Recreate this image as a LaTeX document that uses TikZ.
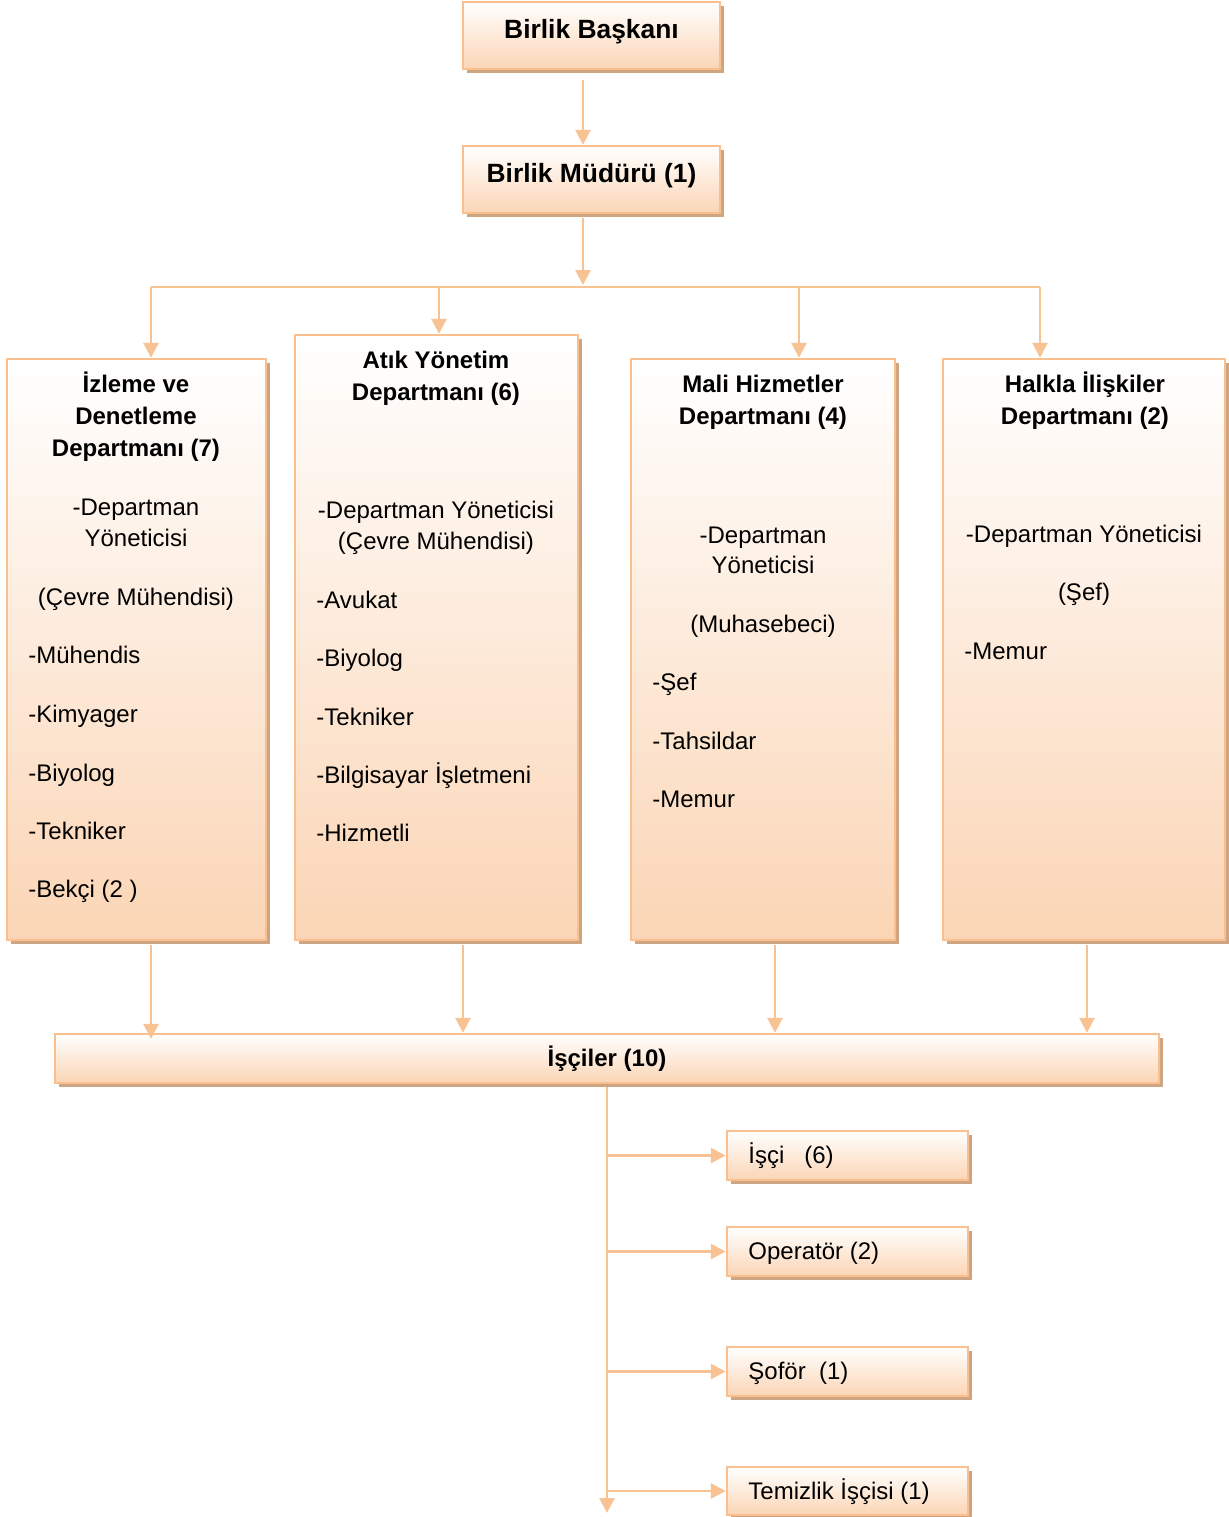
\documentclass[tikz,border=0pt]{standalone}
\usepackage{fontspec}
\setmainfont{Liberation Sans}
\usetikzlibrary{arrows.meta,shadows}
\definecolor{peach}{HTML}{FBD5B5}
\definecolor{bordc}{HTML}{F9BF8F}
\definecolor{connc}{HTML}{F9C293}
\definecolor{shadc}{HTML}{CDA583}
\begin{document}
\begin{tikzpicture}[x=0.5pt,y=-0.5pt,
  box/.style={draw=bordc, line width=1.2pt, top color=white, bottom color=peach,
    general shadow={fill=shadc, shadow xshift=1.75pt, shadow yshift=-1.75pt},
    inner sep=0pt},
  conn/.style={draw=connc, line width=1.3pt},
  arr/.style={conn, -{Triangle[length=7.5pt,width=7.5pt]}},
  t/.style={inner sep=0pt, anchor=mid, yshift=-1.5pt, font=\fontsize{12}{14}\selectfont},
  tl/.style={t, anchor=mid west},
  tb/.style={t, font=\bfseries\fontsize{12}{14}\selectfont},
  tbig/.style={inner sep=0pt, font=\bfseries\fontsize{13.2}{15}\selectfont}]
\useasboundingbox (0,0) rectangle (1229,1517);
% top boxes
\node[box, minimum width=128.5pt, minimum height=33.5pt] (pres) at (591.5,35.5) {};
\node[tbig] (prest) at (591.5,31.5) {Birlik Başkanı};
\node[box, minimum width=128.5pt, minimum height=33.5pt] (mgr) at (591.5,179.5) {};
\node[tbig] (mgrt) at (591.5,175.5) {Birlik Müdürü (1)};
% departments
\node[box, minimum width=129.5pt, minimum height=290.5pt] (d1) at (136.5,649.5) {};
\node[box, minimum width=141.5pt, minimum height=302.5pt] (d2) at (436.5,637.5) {};
\node[box, minimum width=132pt, minimum height=290.5pt] (d3) at (763,649.5) {};
\node[box, minimum width=141pt, minimum height=290.5pt] (d4) at (1084,649.5) {};
% workers
\node[box, minimum width=552pt, minimum height=24.5pt, font=\bfseries\fontsize{12}{14}\selectfont] (workers) at (607,1058.5) {İşçiler (10)};
\node[box, minimum width=120.5pt, minimum height=24.5pt] (w1) at (847.5,1155.5) {};
\node[box, minimum width=120.5pt, minimum height=24.5pt] (w2) at (847.5,1251.5) {};
\node[box, minimum width=120.5pt, minimum height=24.5pt] (w3) at (847.5,1371.5) {};
\node[box, minimum width=120.5pt, minimum height=24pt] (w4) at (847.5,1491) {};
% texts dept 1
\node[tb] (d1t1) at (136,384) {İzleme ve};
\node[tb] (d1t2) at (136,416) {Denetleme};
\node[tb] (d1t3) at (136,448) {Departmanı (7)};
\node[t] (d1a) at (136,507) {-Departman};
\node[t] (d1b) at (136,538) {Yöneticisi};
\node[t] (d1c) at (136,597) {(Çevre Mühendisi)};
\node[tl] (d1d) at (28,655) {-Mühendis};
\node[tl] (d1e) at (28,714) {-Kimyager};
\node[tl] (d1f) at (28,773) {-Biyolog};
\node[tl] (d1g) at (28,831) {-Tekniker};
\node[tl] (d1h) at (28,889) {-Bekçi (2 )};
% dept 2
\node[tb] (d2t1) at (436,360) {Atık Yönetim};
\node[tb] (d2t2) at (436,392) {Departmanı (6)};
\node[t] (d2a) at (436,510) {-Departman Yöneticisi};
\node[t] (d2b) at (436,541) {(Çevre Mühendisi)};
\node[tl] (d2c) at (316,600) {-Avukat};
\node[tl] (d2d) at (316,658) {-Biyolog};
\node[tl] (d2e) at (316,717) {-Tekniker};
\node[tl] (d2f) at (316,775) {-Bilgisayar İşletmeni};
\node[tl] (d2g) at (316,833) {-Hizmetli};
% dept 3
\node[tb] (d3t1) at (763,384) {Mali Hizmetler};
\node[tb] (d3t2) at (763,416) {Departmanı (4)};
\node[t] (d3a) at (763,535) {-Departman};
\node[t] (d3b) at (763,565) {Yöneticisi};
\node[t] (d3c) at (763,624) {(Muhasebeci)};
\node[tl] (d3d) at (652,682) {-Şef};
\node[tl] (d3e) at (652,741) {-Tahsildar};
\node[tl] (d3f) at (652,799) {-Memur};
% dept 4
\node[tb] (d4t1) at (1085,384) {Halkla İlişkiler};
\node[tb] (d4t2) at (1085,416) {Departmanı (2)};
\node[t] (d4a) at (1084,534) {-Departman Yöneticisi};
\node[t] (d4b) at (1084,592) {(Şef)};
\node[tl] (d4c) at (964,651) {-Memur};
% small boxes text
\node[tl] (w1t) at (748,1155) {İşçi\ \ \ (6)};
\node[tl] (w2t) at (748,1251) {Operatör (2)};
\node[tl] (w3t) at (748,1371) {Şoför\ \ (1)};
\node[tl] (w4t) at (748,1491) {Temizlik İşçisi (1)};
% coordinates
\coordinate (xa) at (583,0);
\coordinate (hub) at (583,285);
\coordinate (bl) at (151,287);
\coordinate (br) at (1040,287);
\coordinate (x1) at (151,0);
\coordinate (x2) at (439,0);
\coordinate (x3) at (799,0);
\coordinate (x4) at (1040,0);
\coordinate (y1) at (463,0);
\coordinate (y3) at (775,0);
\coordinate (y4) at (1087,0);
\coordinate (vend) at (607,1513);
% connectors
\draw[arr, shorten <=5pt] (xa |- pres.south) -- (xa |- mgr.north);
\draw[arr, shorten <=2pt] (xa |- mgr.south) -- (hub);
\draw[conn] (bl) -- (br);
\draw[arr] (bl) -- (x1 |- d1.north);
\draw[arr] (x2 |- bl) -- (x2 |- d2.north);
\draw[arr] (x3 |- bl) -- (x3 |- d3.north);
\draw[arr] (br) -- (x4 |- d4.north);
\draw[arr, shorten <=2pt, shorten >=-3pt] (x1 |- d1.south) -- (x1 |- workers.north);
\draw[arr, shorten <=2pt] (y1 |- d2.south) -- (y1 |- workers.north);
\draw[arr, shorten <=2pt] (y3 |- d3.south) -- (y3 |- workers.north);
\draw[arr, shorten <=2pt] (y4 |- d4.south) -- (y4 |- workers.north);
\draw[arr, shorten <=1.5pt] (workers.south) -- (vend);
\draw[arr] (workers.south |- w1.west) -- (w1.west);
\draw[arr] (workers.south |- w2.west) -- (w2.west);
\draw[arr] (workers.south |- w3.west) -- (w3.west);
\draw[arr] (workers.south |- w4.west) -- (w4.west);
\end{tikzpicture}
\end{document}
